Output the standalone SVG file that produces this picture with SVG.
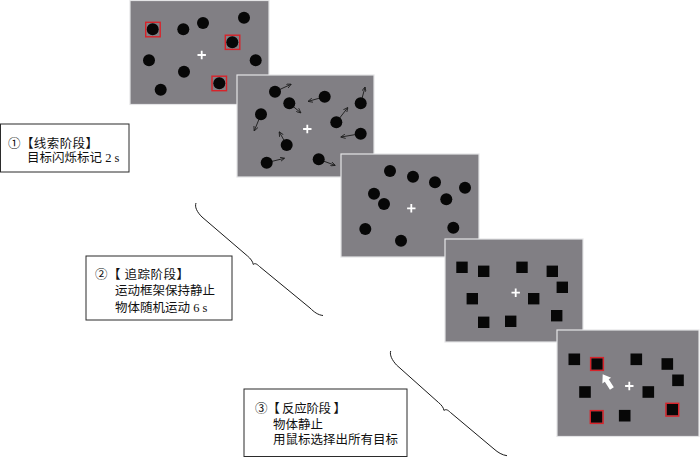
<svg xmlns="http://www.w3.org/2000/svg" width="700" height="457" viewBox="0 0 700 457">
<defs>
<style>
.panel{fill:#817f84;stroke:#e4e4e6;stroke-width:1.2}
.dot{fill:#070707}
.sq{fill:#070707}
.red{fill:none;stroke:#d8232a;stroke-width:1.4}
.cross{stroke:#ffffff;stroke-width:1.8;fill:none}
.mv{stroke:#1a1a1a;stroke-width:0.9;fill:none;marker-end:url(#ah)}
.box{fill:#ffffff;stroke:#2b2b2b;stroke-width:1}
.brace{fill:none;stroke:#1a1a1a;stroke-width:1}
text{font-family:"Liberation Serif","Noto Sans CJK SC",serif;font-size:12.5px;fill:#111}
</style>
<marker id="ah" viewBox="0 0 8 8" refX="7" refY="4" markerWidth="5" markerHeight="5" markerUnits="userSpaceOnUse" orient="auto">
<path d="M0,0.5 L7.5,4 L0,7.5" fill="none" stroke="#1a1a1a" stroke-width="1.3"/>
</marker>
<path id="plus" d="M-4.2,0 H4.2 M0,-4.2 V4.2"/>
</defs>

<g id="panel1">
<rect class="panel" x="130" y="0.5" width="139" height="104"/>
<circle class="dot" cx="152.7" cy="29.3" r="6"/>
<circle class="dot" cx="183.3" cy="29.3" r="6"/>
<circle class="dot" cx="203" cy="23" r="6"/>
<circle class="dot" cx="244" cy="17.7" r="6"/>
<circle class="dot" cx="232.3" cy="42.3" r="6"/>
<circle class="dot" cx="149" cy="60.3" r="6"/>
<circle class="dot" cx="255.7" cy="60.3" r="6"/>
<circle class="dot" cx="184" cy="71.7" r="6"/>
<circle class="dot" cx="160.7" cy="89.7" r="6"/>
<circle class="dot" cx="219.3" cy="83.3" r="6"/>
<rect class="red" x="145.7" y="22.3" width="14.5" height="14.5"/>
<rect class="red" x="225.3" y="35.2" width="14.5" height="14.2"/>
<rect class="red" x="212" y="76.2" width="14.5" height="14.5"/>
<use href="#plus" class="cross" x="201.7" y="55"/>
</g>

<g id="panel2">
<rect class="panel" x="237" y="75" width="137" height="102"/>
<path class="mv" d="M275,91.7 L291,84.3"/>
<path class="mv" d="M289.3,103.3 L300.7,112.7"/>
<path class="mv" d="M324.7,96.7 L308.3,101.3"/>
<path class="mv" d="M360.7,103.3 L365,87.3"/>
<path class="mv" d="M261,114.3 L254.3,130.7"/>
<path class="mv" d="M336.3,122.3 L347.7,107.7"/>
<path class="mv" d="M360.7,133.7 L341,137"/>
<path class="mv" d="M286.7,145 L279.3,132"/>
<path class="mv" d="M266.7,162.7 L284.3,158.3"/>
<path class="mv" d="M318.7,159.3 L335,165.3"/>
<circle class="dot" cx="275" cy="91.7" r="6"/>
<circle class="dot" cx="289.3" cy="103.3" r="6"/>
<circle class="dot" cx="324.7" cy="96.7" r="6"/>
<circle class="dot" cx="360.7" cy="103.3" r="6"/>
<circle class="dot" cx="261" cy="114.3" r="6"/>
<circle class="dot" cx="336.3" cy="122.3" r="6"/>
<circle class="dot" cx="360.7" cy="133.7" r="6"/>
<circle class="dot" cx="286.7" cy="145" r="6"/>
<circle class="dot" cx="266.7" cy="162.7" r="6"/>
<circle class="dot" cx="318.7" cy="159.3" r="6"/>
<use href="#plus" class="cross" x="307.3" y="129"/>
</g>

<g id="panel3">
<rect class="panel" x="341" y="154" width="138" height="103"/>
<circle class="dot" cx="390" cy="171" r="6"/>
<circle class="dot" cx="413" cy="176.7" r="6"/>
<circle class="dot" cx="435" cy="182.3" r="6"/>
<circle class="dot" cx="465" cy="187.7" r="6"/>
<circle class="dot" cx="374" cy="193.7" r="6"/>
<circle class="dot" cx="384" cy="204" r="6"/>
<circle class="dot" cx="446.3" cy="199.3" r="6"/>
<circle class="dot" cx="365.3" cy="229" r="6"/>
<circle class="dot" cx="453.3" cy="227.7" r="6"/>
<circle class="dot" cx="401" cy="240.7" r="6"/>
<use href="#plus" class="cross" x="411.3" y="208.3"/>
</g>

<g id="panel4">
<rect class="panel" x="445" y="239" width="138" height="103"/>
<rect class="sq" x="456.3" y="261.6" width="11.4" height="11.4"/>
<rect class="sq" x="478" y="265.6" width="11.4" height="11.4"/>
<rect class="sq" x="516.3" y="261.6" width="11.4" height="11.4"/>
<rect class="sq" x="546.6" y="265.6" width="11.4" height="11.4"/>
<rect class="sq" x="556.6" y="281.6" width="11.4" height="11.4"/>
<rect class="sq" x="466.6" y="293" width="11.4" height="11.4"/>
<rect class="sq" x="528" y="293" width="11.4" height="11.4"/>
<rect class="sq" x="478" y="316.6" width="11.4" height="11.4"/>
<rect class="sq" x="505" y="315.6" width="11.4" height="11.4"/>
<rect class="sq" x="551" y="310" width="11.4" height="11.4"/>
<use href="#plus" class="cross" x="515.7" y="292.7"/>
</g>

<g id="panel5">
<rect class="panel" x="557" y="330" width="142" height="106.5"/>
<rect class="sq" x="568.5" y="353.5" width="11.6" height="11.6"/>
<rect class="sq" x="591.2" y="358.2" width="11.6" height="11.6"/>
<rect class="sq" x="630.5" y="353.5" width="11.6" height="11.6"/>
<rect class="sq" x="661.5" y="358.2" width="11.6" height="11.6"/>
<rect class="sq" x="672.2" y="374.5" width="11.6" height="11.6"/>
<rect class="sq" x="579.2" y="386.2" width="11.6" height="11.6"/>
<rect class="sq" x="642.5" y="386.2" width="11.6" height="11.6"/>
<rect class="sq" x="590.9" y="411.2" width="11.6" height="11.6"/>
<rect class="sq" x="618.9" y="409.9" width="11.6" height="11.6"/>
<rect class="sq" x="666.5" y="403.9" width="11.6" height="11.6"/>
<rect class="red" x="590.6" y="357.6" width="12.8" height="12.8"/>
<rect class="red" x="590.3" y="410.6" width="12.8" height="12.8"/>
<rect class="red" x="665.9" y="403.3" width="12.8" height="12.8"/>
<use href="#plus" class="cross" x="629.3" y="386"/>
<polygon transform="translate(602.7,374.3) rotate(-32.7)" points="0,0 -5.2,7.5 -2.3,7.5 -2.3,17 2.3,17 2.3,7.5 5.2,7.5" fill="#ffffff"/>
</g>

<g id="cue-box">
<rect class="box" x="0.5" y="124" width="128.5" height="48"/>
<text x="8" y="148" textLength="90" lengthAdjust="spacing">①【线索阶段】</text>
<text x="27" y="162">目标闪烁标记 2 s</text>
</g>

<g id="tracking-box">
<rect class="box" x="86" y="256" width="146" height="64"/>
<text x="95" y="278.5" textLength="94" lengthAdjust="spacing">②【 追踪阶段】</text>
<text x="115" y="295">运动框架保持静止</text>
<text x="115" y="311.5">物体随机运动 6 s</text>
</g>

<g id="response-box">
<rect class="box" x="244" y="389" width="163" height="67.5"/>
<text x="255" y="413" textLength="91" lengthAdjust="spacing">③【 反应阶段 】</text>
<text x="273" y="428.5">物体静止</text>
<text x="273" y="444">用鼠标选择出所有目标</text>
</g>

<g id="connectors">
<path class="brace" d="M196,203 C194.5,207 197,212 202,217 L247.5,256 C250.5,258.5 252.8,261.5 253.3,264.5 C254.5,263 256.5,263.5 259.5,266.5 L310,308 C314,312 318,315 323,315.5"/>
<path class="brace" d="M390.7,351 C389.5,355 392,360 396.5,365 L438.5,402.5 C441.5,405 443.5,407.5 444,410.5 C445.5,409 447.5,409.5 450.5,412.5 L494,449 C498,452.5 502,455 507,455.7"/>
</g>
</svg>
